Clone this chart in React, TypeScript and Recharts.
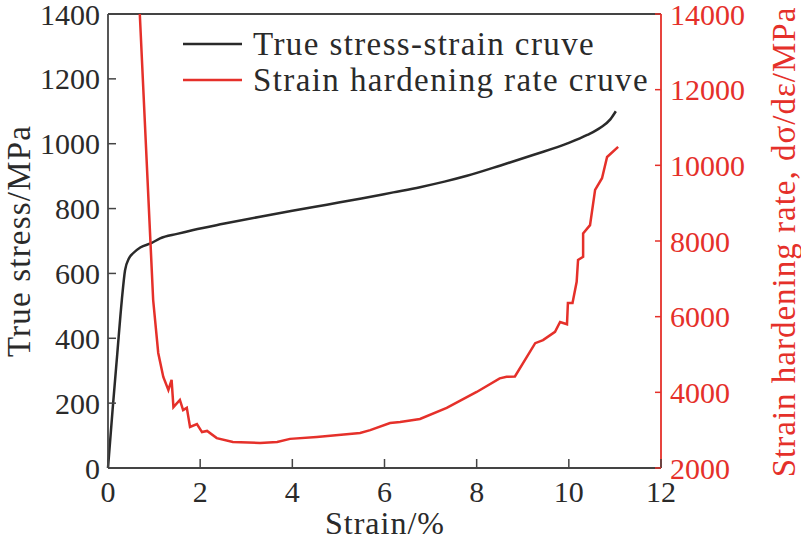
import React from "react";
import { LineChart, Line, XAxis, YAxis, Legend, ReferenceLine } from "recharts";

const stressStrain = [0, 0.1, 0.2, 0.3, 0.37, 0.45, 0.55, 0.7, 0.95, 1.13, 1.5, 1.85, 2.5, 3.3, 4, 4.75, 5.5, 6.19, 6.77, 7.3, 7.79, 8.52, 9.24, 9.97, 10.4, 10.69, 10.9, 11.02];
const stressValues = [0, 180, 350, 518, 610, 645, 663, 680, 694, 708, 722, 734, 753, 775, 793, 812, 831, 850, 866, 883, 901, 933, 966, 1001, 1027, 1050, 1075, 1100];

const rateStrain = [0.69, 0.98, 1.09, 1.2, 1.31, 1.38, 1.42, 1.56, 1.63, 1.71, 1.78, 1.93, 2.04, 2.15, 2.36, 2.71, 3.3, 3.67, 3.95, 4.53, 5.47, 5.69, 6.12, 6.34, 6.77, 7.35, 8.0, 8.5, 8.65, 8.83, 9.27, 9.44, 9.7, 9.81, 9.96, 9.98, 10.08, 10.17, 10.2, 10.31, 10.31, 10.46, 10.57, 10.72, 10.83, 11.07];
const rateValues = [14000, 6440, 5040, 4405, 4060, 4330, 3610, 3800, 3530, 3590, 3085, 3160, 2950, 2980, 2790, 2690, 2660, 2690, 2770, 2820, 2925, 3000, 3190, 3215, 3295, 3590, 4010, 4370, 4410, 4420, 5300, 5380, 5600, 5860, 5800, 6360, 6360, 6920, 7500, 7580, 8200, 8420, 9350, 9660, 10220, 10490];

const xTicks = [0, 2, 4, 6, 8, 10, 12];
const leftTicks = [0, 200, 400, 600, 800, 1000, 1200, 1400];
const rightTicks = [2000, 4000, 6000, 8000, 10000, 12000, 14000];

const seriesNames = ["True stress-strain cruve", "Strain hardening rate cruve"];
const xTitle = "Strain/%";
const leftTitle = "True stress/MPa";
const rightTitle = "Strain hardening rate, dσ/dε/MPa";

const stressData = stressStrain.map((s, i) => ({ strain: s, stress: stressValues[i] }));
const rateData = rateStrain.map((s, i) => ({ strain: s, rate: rateValues[i] }));

const FONT = "'Liberation Serif', 'DejaVu Serif', serif";
const DARK = "#2a2a2a";
const AXIS = "#444";
const RED = "#e5302a";
const FS = 30;

const BottomTick = (props: any) => {
  const { x, y, payload } = props;
  return (
    <g>
      <line x1={x} y1={y} x2={x} y2={y - 9} stroke={AXIS} strokeWidth={1.5} />
      <text x={x} y={y + 34} textAnchor="middle" fontFamily={FONT} fontSize={FS} fill={DARK}>
        {payload.value}
      </text>
    </g>
  );
};

const LeftTick = (props: any) => {
  const { x, y, payload } = props;
  return (
    <g>
      <line x1={x} y1={y} x2={x + 8} y2={y} stroke={AXIS} strokeWidth={1.5} />
      <text x={x - 8} y={y} dy="0.35em" textAnchor="end" fontFamily={FONT} fontSize={FS} fill={DARK}>
        {payload.value}
      </text>
    </g>
  );
};

const RightTick = (props: any) => {
  const { x, y, payload } = props;
  return (
    <g>
      <line x1={x} y1={y} x2={x - 6} y2={y} stroke={RED} strokeWidth={1.5} />
      <text x={x + 9} y={y} dy="0.35em" textAnchor="start" fontFamily={FONT} fontSize={FS} fill={RED}>
        {payload.value}
      </text>
    </g>
  );
};

const LegendContent = () => (
  <div style={{ fontFamily: FONT, fontSize: 33, color: DARK, lineHeight: "36px", letterSpacing: 1.4 }}>
    {seriesNames.map((n, i) => (
      <div key={n} style={{ display: "flex", alignItems: "center", whiteSpace: "nowrap" }}>
        <svg width={70} height={36} style={{ flex: "none" }}>
          <line x1={0} y1={18} x2={59} y2={18} stroke={i === 0 ? DARK : RED} strokeWidth={2.5} />
        </svg>
        <span>{n}</span>
      </div>
    ))}
  </div>
);

export default function App() {
  return (
    <div style={{ position: "absolute", left: 0, top: 0, width: 801, height: 540, background: "#fff", overflow: "hidden" }}>
      <LineChart width={801} height={540} margin={{ top: 14, right: 0, bottom: 0, left: 0 }}>
        <XAxis
          type="number"
          dataKey="strain"
          domain={[0, 12]}
          ticks={xTicks}
          height={72}
          tickSize={0}
          tickMargin={0}
          tickLine={false}
          axisLine={{ stroke: AXIS, strokeWidth: 1.8 }}
          tick={<BottomTick />}
          allowDuplicatedCategory={false}
          label={{
            content: () => (
              <text x={385} y={534} textAnchor="middle" fontFamily={FONT} fontSize={32} fill={DARK} letterSpacing={1}>
                {xTitle}
              </text>
            ),
          }}
        />
        <YAxis
          yAxisId="left"
          orientation="left"
          domain={[0, 1400]}
          ticks={leftTicks}
          width={108}
          tickSize={0}
          tickMargin={0}
          tickLine={false}
          axisLine={{ stroke: AXIS, strokeWidth: 1.8 }}
          tick={<LeftTick />}
          label={{
            content: () => (
              <text x={19} y={241} transform="rotate(-90 19 241)" textAnchor="middle" dominantBaseline="central" fontFamily={FONT} fontSize={33} fill={DARK} letterSpacing={1.2}>
                {leftTitle}
              </text>
            ),
          }}
        />
        <YAxis
          yAxisId="right"
          orientation="right"
          domain={[2000, 14000]}
          ticks={rightTicks}
          width={140}
          tickSize={0}
          tickMargin={0}
          tickLine={false}
          axisLine={{ stroke: RED, strokeWidth: 1.8 }}
          tick={<RightTick />}
          label={{
            content: () => (
              <text x={784} y={242} transform="rotate(-90 784 242)" textAnchor="middle" dominantBaseline="central" fontFamily={FONT} fontSize={33} fill={RED} letterSpacing={1}>
                {rightTitle}
              </text>
            ),
          }}
        />
        <ReferenceLine yAxisId="left" y={1400} stroke={AXIS} strokeWidth={1.8} />
        <Line
          yAxisId="left"
          data={stressData}
          dataKey="stress"
          type="monotone"
          stroke={DARK}
          strokeWidth={2.5}
          dot={false}
          isAnimationActive={false}
          name={seriesNames[0]}
        />
        <Line
          yAxisId="right"
          data={rateData}
          dataKey="rate"
          type="linear"
          stroke={RED}
          strokeWidth={2.5}
          dot={false}
          isAnimationActive={false}
          name={seriesNames[1]}
        />
        <Legend
          layout="vertical"
          align="center"
          verticalAlign="middle"
          content={<LegendContent />}
          wrapperStyle={{ top: 26, left: 183, width: "auto" }}
        />
      </LineChart>
    </div>
  );
}
